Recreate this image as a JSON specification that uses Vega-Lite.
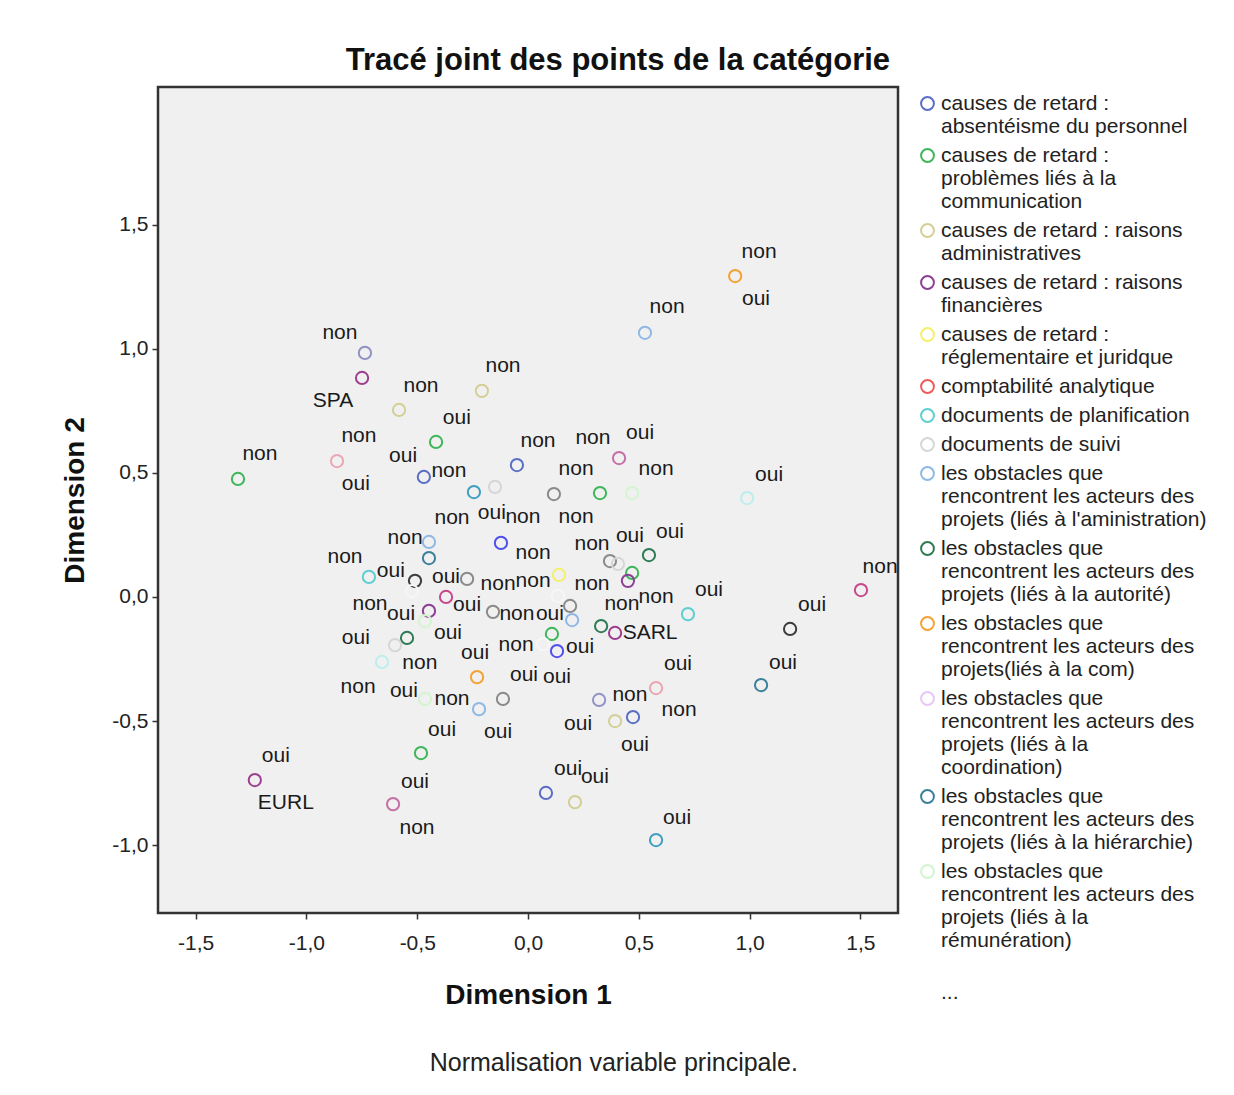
{
  "$schema": "https://vega.github.io/schema/vega-lite/v6.json",
  "background": "white",
  "padding": {"left": 60, "top": 43, "right": 10, "bottom": 10},
  "title": {"text": "Normalisation variable principale.", "orient": "bottom", "anchor": "middle", "frame": "bounds", "fontSize": 25, "fontWeight": "normal", "font": "Liberation Sans", "color": "#222", "offset": 19, "dx": -23},
  "datasets": {
    "variables": [
      {"v": "c1", "name": "causes de retard : absentéisme du personnel"},
      {"v": "c2", "name": "causes de retard : problèmes liés à la communication"},
      {"v": "c3", "name": "causes de retard : raisons administratives"},
      {"v": "c4", "name": "causes de retard : raisons financières"},
      {"v": "c5", "name": "causes de retard : réglementaire et juridque"},
      {"v": "c6", "name": "comptabilité analytique"},
      {"v": "c7", "name": "documents de planification"},
      {"v": "c8", "name": "documents de suivi"},
      {"v": "c9", "name": "les obstacles que rencontrent les acteurs des projets (liés à l'aministration)"},
      {"v": "c10", "name": "les obstacles que rencontrent les acteurs des projets (liés à la autorité)"},
      {"v": "c11", "name": "les obstacles que rencontrent les acteurs des projets(liés à la com)"},
      {"v": "c12", "name": "les obstacles que rencontrent les acteurs des projets (liés à la coordination)"},
      {"v": "c13", "name": "les obstacles que rencontrent les acteurs des projets (liés à la hiérarchie)"},
      {"v": "c14", "name": "les obstacles que rencontrent les acteurs des projets (liés à la rémunération)"},
      {"v": "c15", "name": "forme juridique"},
      {"v": "c16", "name": "variable 16"},
      {"v": "c17", "name": "variable 17"},
      {"v": "c18", "name": "variable 18"},
      {"v": "c19", "name": "variable 19"},
      {"v": "c20", "name": "variable 20"},
      {"v": "c21", "name": "variable 21"},
      {"v": "c22", "name": "variable 22"},
      {"v": "c23", "name": "variable 23"},
      {"v": "c24", "name": "variable 24"},
      {"v": "c25", "name": "variable 25"}
    ],
    "points": [
      {"v": "c11", "x": 0.935, "y": 1.294},
      {"v": "c9", "x": 0.528, "y": 1.065},
      {"v": "c19", "x": -0.736, "y": 0.984},
      {"v": "c15", "x": -0.749, "y": 0.883},
      {"v": "c3", "x": -0.582, "y": 0.754},
      {"v": "c3", "x": -0.208, "y": 0.831},
      {"v": "c2", "x": -0.415, "y": 0.625},
      {"v": "c2", "x": -1.309, "y": 0.476},
      {"v": "c20", "x": -0.862, "y": 0.548},
      {"v": "c1", "x": -0.470, "y": 0.484},
      {"v": "c1", "x": -0.050, "y": 0.532},
      {"v": "c21", "x": 0.411, "y": 0.560},
      {"v": "c24", "x": -0.244, "y": 0.423},
      {"v": "c8", "x": -0.149, "y": 0.444},
      {"v": "c16", "x": 0.117, "y": 0.415},
      {"v": "c2", "x": 0.325, "y": 0.419},
      {"v": "c14", "x": 0.470, "y": 0.419},
      {"v": "c23", "x": 0.989, "y": 0.399},
      {"v": "c9", "x": -0.447, "y": 0.222},
      {"v": "c13", "x": -0.447, "y": 0.157},
      {"v": "c18", "x": -0.122, "y": 0.218},
      {"v": "c16", "x": 0.370, "y": 0.145},
      {"v": "c8", "x": 0.406, "y": 0.133},
      {"v": "c10", "x": 0.546, "y": 0.169},
      {"v": "c7", "x": -0.718, "y": 0.081},
      {"v": "c17", "x": -0.510, "y": 0.065},
      {"v": "c25", "x": -0.524, "y": 0.024},
      {"v": "c16", "x": -0.275, "y": 0.073},
      {"v": "c5", "x": 0.140, "y": 0.089},
      {"v": "c2", "x": 0.470, "y": 0.097},
      {"v": "c4", "x": 0.451, "y": 0.065},
      {"v": "c22", "x": -0.370, "y": 0.0},
      {"v": "c4", "x": -0.447, "y": -0.056},
      {"v": "c14", "x": -0.465, "y": -0.097},
      {"v": "c16", "x": -0.158, "y": -0.060},
      {"v": "c25", "x": 0.135, "y": 0.004},
      {"v": "c16", "x": 0.190, "y": -0.036},
      {"v": "c9", "x": 0.199, "y": -0.093},
      {"v": "c10", "x": 0.330, "y": -0.117},
      {"v": "c15", "x": 0.393, "y": -0.145},
      {"v": "c22", "x": 1.503, "y": 0.028},
      {"v": "c7", "x": 0.722, "y": -0.069},
      {"v": "c17", "x": 1.183, "y": -0.129},
      {"v": "c10", "x": -0.546, "y": -0.165},
      {"v": "c8", "x": -0.600, "y": -0.194},
      {"v": "c23", "x": -0.659, "y": -0.262},
      {"v": "c2", "x": 0.108, "y": -0.149},
      {"v": "c25", "x": 0.068, "y": -0.190},
      {"v": "c18", "x": 0.131, "y": -0.218},
      {"v": "c11", "x": -0.230, "y": -0.323},
      {"v": "c14", "x": -0.465, "y": -0.411},
      {"v": "c16", "x": -0.113, "y": -0.411},
      {"v": "c9", "x": -0.221, "y": -0.452},
      {"v": "c19", "x": 0.321, "y": -0.415},
      {"v": "c20", "x": 0.578, "y": -0.367},
      {"v": "c3", "x": 0.393, "y": -0.500},
      {"v": "c1", "x": 0.474, "y": -0.484},
      {"v": "c13", "x": 1.052, "y": -0.355},
      {"v": "c2", "x": -0.483, "y": -0.629},
      {"v": "c1", "x": 0.081, "y": -0.790},
      {"v": "c3", "x": 0.212, "y": -0.827},
      {"v": "c15", "x": -1.233, "y": -0.738},
      {"v": "c21", "x": -0.609, "y": -0.835},
      {"v": "c24", "x": 0.578, "y": -0.980}
    ],
    "labels": [
      {"t": "non", "x": 1.043, "y": 1.391},
      {"t": "oui", "x": 1.029, "y": 1.202},
      {"t": "non", "x": 0.628, "y": 1.169},
      {"t": "non", "x": -0.849, "y": 1.065},
      {"t": "SPA", "x": -0.880, "y": 0.790},
      {"t": "non", "x": -0.483, "y": 0.851},
      {"t": "non", "x": -0.113, "y": 0.931},
      {"t": "oui", "x": -0.321, "y": 0.722},
      {"t": "non", "x": -1.210, "y": 0.577},
      {"t": "non", "x": -0.763, "y": 0.649},
      {"t": "oui", "x": -0.777, "y": 0.456},
      {"t": "oui", "x": -0.564, "y": 0.569},
      {"t": "non", "x": -0.357, "y": 0.508},
      {"t": "non", "x": 0.045, "y": 0.629},
      {"t": "non", "x": 0.293, "y": 0.641},
      {"t": "oui", "x": 0.506, "y": 0.661},
      {"t": "non", "x": 0.217, "y": 0.516},
      {"t": "non", "x": 0.578, "y": 0.516},
      {"t": "oui", "x": 1.088, "y": 0.492},
      {"t": "non", "x": -0.343, "y": 0.319},
      {"t": "oui", "x": -0.163, "y": 0.339},
      {"t": "non", "x": -0.023, "y": 0.323},
      {"t": "non", "x": 0.217, "y": 0.323},
      {"t": "non", "x": -0.555, "y": 0.238},
      {"t": "oui", "x": 0.460, "y": 0.246},
      {"t": "oui", "x": 0.641, "y": 0.262},
      {"t": "non", "x": 0.289, "y": 0.214},
      {"t": "non", "x": 0.023, "y": 0.177},
      {"t": "non", "x": -0.826, "y": 0.161},
      {"t": "oui", "x": -0.619, "y": 0.105},
      {"t": "oui", "x": -0.370, "y": 0.081},
      {"t": "non", "x": -0.135, "y": 0.052},
      {"t": "non", "x": 0.023, "y": 0.065},
      {"t": "non", "x": 0.289, "y": 0.052},
      {"t": "non", "x": 1.589, "y": 0.121},
      {"t": "oui", "x": 0.817, "y": 0.028},
      {"t": "non", "x": 0.578, "y": 0.0},
      {"t": "non", "x": -0.713, "y": -0.028},
      {"t": "oui", "x": -0.573, "y": -0.069},
      {"t": "oui", "x": -0.275, "y": -0.032},
      {"t": "non", "x": -0.050, "y": -0.069},
      {"t": "oui", "x": 0.099, "y": -0.069},
      {"t": "non", "x": 0.424, "y": -0.028},
      {"t": "oui", "x": 1.282, "y": -0.032},
      {"t": "SARL", "x": 0.551, "y": -0.145},
      {"t": "oui", "x": -0.361, "y": -0.145},
      {"t": "oui", "x": -0.777, "y": -0.165},
      {"t": "non", "x": -0.054, "y": -0.194},
      {"t": "oui", "x": 0.235, "y": -0.202},
      {"t": "oui", "x": -0.239, "y": -0.226},
      {"t": "non", "x": -0.488, "y": -0.266},
      {"t": "oui", "x": 0.677, "y": -0.270},
      {"t": "oui", "x": 1.151, "y": -0.266},
      {"t": "oui", "x": -0.018, "y": -0.315},
      {"t": "oui", "x": 0.131, "y": -0.323},
      {"t": "non", "x": -0.767, "y": -0.363},
      {"t": "oui", "x": -0.560, "y": -0.379},
      {"t": "non", "x": -0.343, "y": -0.411},
      {"t": "non", "x": 0.460, "y": -0.395},
      {"t": "non", "x": 0.682, "y": -0.456},
      {"t": "oui", "x": 0.226, "y": -0.512},
      {"t": "oui", "x": -0.388, "y": -0.536},
      {"t": "oui", "x": -0.135, "y": -0.544},
      {"t": "oui", "x": 0.483, "y": -0.597},
      {"t": "oui", "x": -1.138, "y": -0.641},
      {"t": "oui", "x": 0.181, "y": -0.694},
      {"t": "oui", "x": 0.302, "y": -0.726},
      {"t": "oui", "x": -0.510, "y": -0.746},
      {"t": "EURL", "x": -1.093, "y": -0.831},
      {"t": "oui", "x": 0.673, "y": -0.891},
      {"t": "non", "x": -0.501, "y": -0.931}
    ]
  },
  "vconcat": [
    {
      "title": {"text": "Tracé joint des points de la catégorie", "anchor": "middle", "frame": "bounds", "fontSize": 31, "fontWeight": "bold", "font": "Liberation Sans", "color": "#111", "offset": 10, "dx": 138},
      "width": 740,
      "height": 826,
      "layer": [
        {
          "data": {"name": "points"},
          "transform": [{"lookup": "v", "from": {"data": {"name": "variables"}, "key": "v", "fields": ["name"]}}],
          "mark": {"type": "point", "shape": "circle", "filled": false, "size": 150, "strokeWidth": 2, "opacity": 1},
          "encoding": {
            "x": {"field": "x", "type": "quantitative", "scale": {"domain": [-1.67, 1.67], "nice": false, "zero": false},
                  "axis": {"title": "Dimension 1", "values": [-1.5, -1, -0.5, 0, 0.5, 1, 1.5]}},
            "y": {"field": "y", "type": "quantitative", "scale": {"domain": [-1.274, 2.056], "nice": false, "zero": false},
                  "axis": {"title": "Dimension 2", "values": [-1, -0.5, 0, 0.5, 1, 1.5]}},
            "color": {
              "field": "name", "type": "nominal",
              "scale": {
                "domain": [
                  "causes de retard : absentéisme du personnel",
                  "causes de retard : problèmes liés à la communication",
                  "causes de retard : raisons administratives",
                  "causes de retard : raisons financières",
                  "causes de retard : réglementaire et juridque",
                  "comptabilité analytique",
                  "documents de planification",
                  "documents de suivi",
                  "les obstacles que rencontrent les acteurs des projets (liés à l'aministration)",
                  "les obstacles que rencontrent les acteurs des projets (liés à la autorité)",
                  "les obstacles que rencontrent les acteurs des projets(liés à la com)",
                  "les obstacles que rencontrent les acteurs des projets (liés à la coordination)",
                  "les obstacles que rencontrent les acteurs des projets (liés à la hiérarchie)",
                  "les obstacles que rencontrent les acteurs des projets (liés à la rémunération)",
                  "...",
                  "forme juridique", "variable 16", "variable 17", "variable 18", "variable 19", "variable 20", "variable 21", "variable 22", "variable 23", "variable 24", "variable 25"
                ],
                "range": [
                  "#5a6ec6", "#3fb659", "#d4cf96", "#8c3f96", "#f3f06e", "#ee5b5b", "#5dcfd1", "#d6d6d6", "#8fb9e5", "#2e7b55", "#f5a233", "#e6c8f6", "#3b809b", "#d2f5cf",
                  "transparent",
                  "#9e3f8e", "#8a8a8a", "#3c3c3c", "#4f4ff2", "#9292c6", "#eaa6b4", "#c46fa6", "#c8488c", "#bdeeee", "#3f9fc0", "#f6f6f6"
                ]
              },
              "legend": {
                "title": null,
                "values": [
                  "causes de retard : absentéisme du personnel",
                  "causes de retard : problèmes liés à la communication",
                  "causes de retard : raisons administratives",
                  "causes de retard : raisons financières",
                  "causes de retard : réglementaire et juridque",
                  "comptabilité analytique",
                  "documents de planification",
                  "documents de suivi",
                  "les obstacles que rencontrent les acteurs des projets (liés à l'aministration)",
                  "les obstacles que rencontrent les acteurs des projets (liés à la autorité)",
                  "les obstacles que rencontrent les acteurs des projets(liés à la com)",
                  "les obstacles que rencontrent les acteurs des projets (liés à la coordination)",
                  "les obstacles que rencontrent les acteurs des projets (liés à la hiérarchie)",
                  "les obstacles que rencontrent les acteurs des projets (liés à la rémunération)",
                  "..."
                ],
                "labelExpr": "datum.label == '...' ? ['', '', '...'] : split(replace(replace(replace(replace(replace(replace(replace(replace(replace(datum.label, 'que rencontrent', 'que|rencontrent'), 'acteurs des projets', 'acteurs des|projets'), 'la coordination', 'la|coordination'), 'la rémunération', 'la|rémunération'), 'retard : absentéisme', 'retard :|absentéisme'), 'retard : problèmes liés à la communication', 'retard :|problèmes liés à la|communication'), 'raisons administratives', 'raisons|administratives'), 'raisons financières', 'raisons|financières'), 'retard : réglementaire', 'retard :|réglementaire'), '|')"
              }
            }
          }
        },
        {
          "data": {"name": "labels"},
          "mark": {"type": "text", "fontSize": 21, "font": "Liberation Sans", "color": "#1a1a1a", "align": "center", "baseline": "middle"},
          "encoding": {
            "x": {"field": "x", "type": "quantitative"},
            "y": {"field": "y", "type": "quantitative"},
            "text": {"field": "t"}
          }
        }
      ]
    }
  ],
  "config": {
    "font": "Liberation Sans",
    "view": {"stroke": "#333333", "strokeWidth": 2.5, "fill": "#f0f0f0"},
    "axis": {
      "grid": false, "domain": false, "tickSize": 6, "tickColor": "#333", "tickWidth": 1.5,
      "labelFontSize": 21, "labelColor": "#222", "labelFont": "Liberation Sans",
      "titleFontSize": 28, "titleFontWeight": "bold", "titleColor": "#111", "titleFont": "Liberation Sans",
      "labelExpr": "replace(replace(format(datum.value, '.1f'), '.', ','), '−', '-')"
    },
    "axisX": {"labelPadding": 13, "titlePadding": 28},
    "axisY": {"labelPadding": 4, "titlePadding": 22},
    "legend": {
      "orient": "right", "offset": 11, "padding": 6, "rowPadding": 7,
      "labelFontSize": 21, "labelLimit": 320, "labelColor": "#222", "labelFont": "Liberation Sans", "labelOffset": 3,
      "symbolSize": 165, "symbolStrokeWidth": 2, "symbolType": "circle"
    }
  }
}
